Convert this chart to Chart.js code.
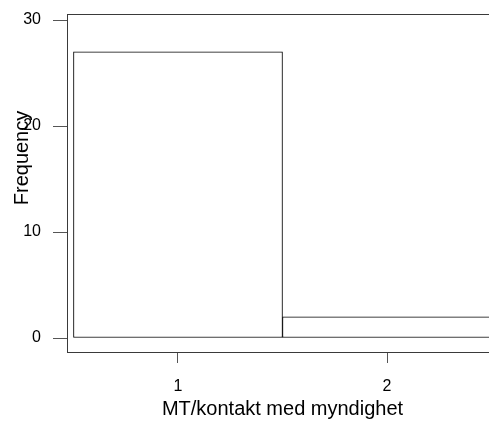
<!DOCTYPE html>
<html>
<head>
<meta charset="utf-8">
<script src="https://cdn.jsdelivr.net/npm/chart.js@4/dist/chart.umd.min.js"></script>
<style>
    html, body { margin: 0; padding: 0; background: #fff; overflow: hidden; }
    #histChart { display: block; }
</style>
</head>
<body>
<canvas id="histChart" width="500" height="422"></canvas>
<script>
// histogram: MT/kontakt med myndighet
const binCenters = [1, 2];
const frequencies = [27, 2];
const yTickValues = [0, 10, 20, 30];
const xTickValues = [1, 2];
const xTitle = 'MT/kontakt med myndighet';
const yTitle = 'Frequency';

const FONT = '"Liberation Sans", Arial, sans-serif';

// frame around the plot area + rotated y title
const framePlugin = {
    id: 'frame',
    afterDraw(chart) {
        const { ctx, chartArea } = chart;
        ctx.save();
        ctx.strokeStyle = '#3a3a3a';
        ctx.lineWidth = 1;
        ctx.strokeRect(chartArea.left + 0.5, chartArea.top + 0.5,
            chartArea.right - chartArea.left, chartArea.bottom - chartArea.top);

        ctx.translate(22, 158);
        ctx.rotate(-Math.PI / 2);
        ctx.fillStyle = '#000';
        ctx.font = '20px ' + FONT;
        ctx.textAlign = 'center';
        ctx.textBaseline = 'middle';
        ctx.fillText(yTitle, 0, 0);
        ctx.restore();
    }
};

const ctx = document.getElementById('histChart');
new Chart(ctx, {
    type: 'bar',
    data: {
        datasets: [{
            data: binCenters.map((x, i) => ({ x: x, y: frequencies[i] })),
            backgroundColor: '#ffffff',
            borderColor: '#000000',
            borderWidth: 1,
            borderSkipped: false,
            barPercentage: 1,
            categoryPercentage: 1
        }]
    },
    options: {
        responsive: false,
        animation: false,
        events: [],
        layout: { padding: { top: 14, right: 2, left: 0, bottom: 0 } },
        plugins: {
            legend: { display: false },
            tooltip: { enabled: false }
        },
        scales: {
            x: {
                type: 'linear',
                offset: false,
                min: 0.469,
                max: 2.531,
                afterFit: (scale) => {
                    scale.height = 70;
                    scale.paddingLeft = 0;
                    scale.paddingRight = 0;
                },
                afterBuildTicks: (scale) => { scale.ticks = xTickValues.map(v => ({ value: v })); },
                grid: { offset: false, drawOnChartArea: false, drawTicks: true, tickLength: 11, color: '#555' },
                border: { display: false },
                ticks: { color: '#000', font: { family: FONT, size: 16 }, padding: 14, maxRotation: 0 },
                title: {
                    display: true,
                    text: xTitle,
                    color: '#000',
                    font: { family: FONT, size: 20 },
                    padding: { top: 0, bottom: 1 }
                }
            },
            y: {
                min: -1.32,
                max: 30.57,
                afterFit: (scale) => {
                    scale.width = 67;
                    scale.paddingTop = 0;
                    scale.paddingBottom = 0;
                },
                afterBuildTicks: (scale) => { scale.ticks = yTickValues.map(v => ({ value: v })); },
                grid: { drawOnChartArea: false, drawTicks: true, tickLength: 14, color: '#555' },
                border: { display: false },
                ticks: { color: '#000', font: { family: FONT, size: 16 }, padding: 12 }
            }
        }
    },
    plugins: [framePlugin]
});
</script>
</body>
</html>
